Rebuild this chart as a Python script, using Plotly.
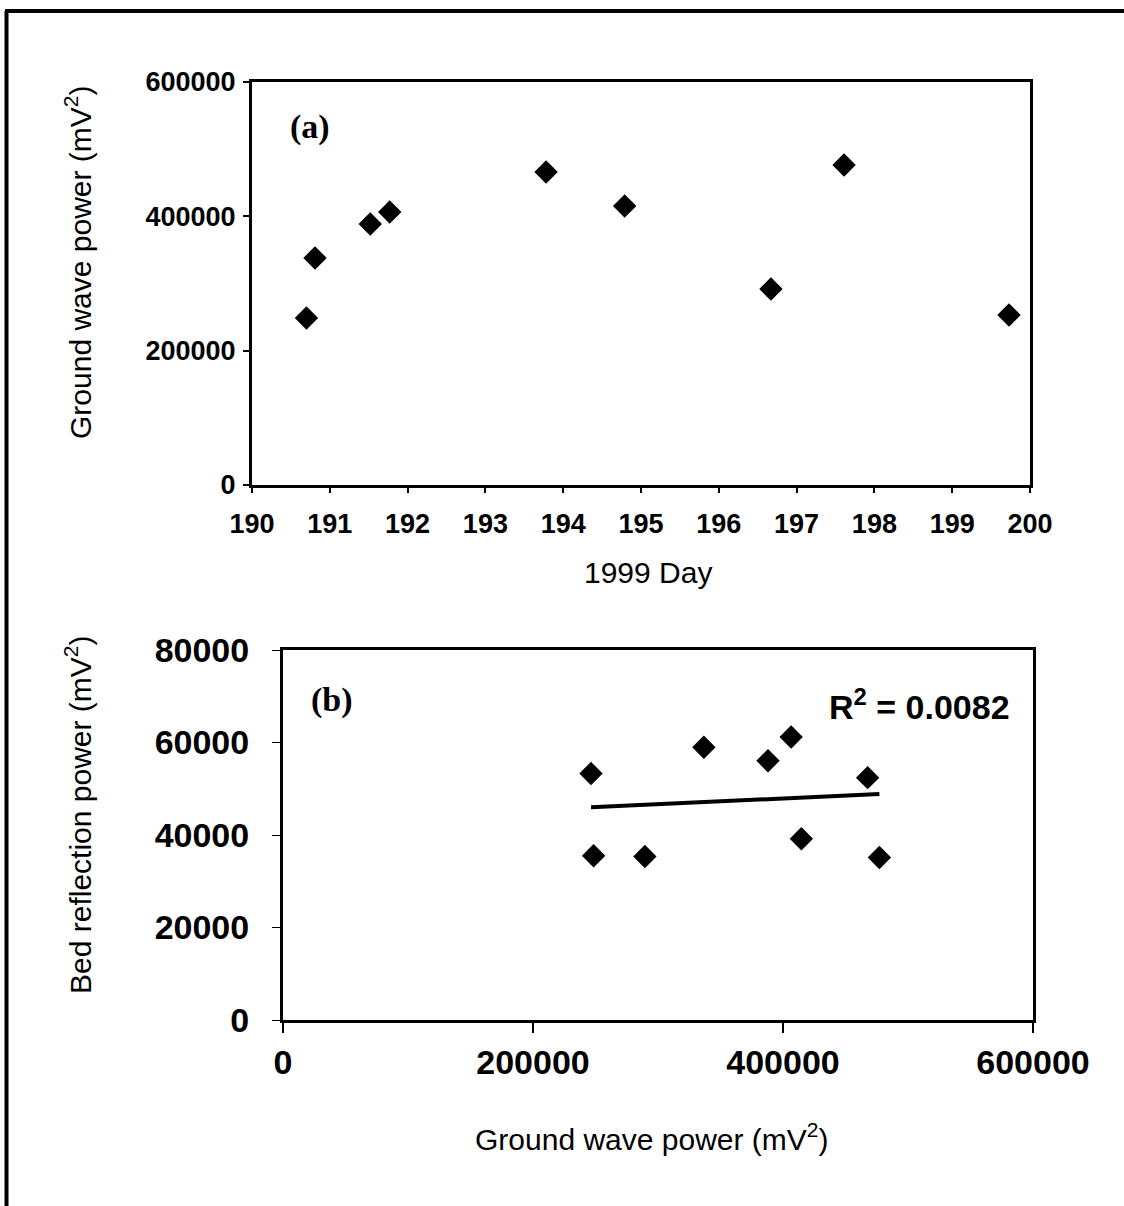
import numpy as np
import plotly.graph_objects as go

# ---- Data ----
day_1999 = [190.70, 190.81, 191.52, 191.77, 193.78, 194.79, 196.67, 197.61, 199.73]
ground_wave_a = [248600, 338000, 388600, 406500, 466000, 415400, 291800, 476400, 253100]

ground_wave_b = [246400, 248500, 289500, 336700, 388000, 406500, 414700, 467700, 477100]
bed_reflection_b = [53290, 35510, 35360, 58980, 56070, 61180, 39180, 52400, 35150]

r2_text = "R<sup>2</sup> = 0.0082"

W, H = 1124, 1206

def px(x):
    return x / W

def py(y):
    return 1 - y / H

SANS = "Liberation Sans, Arial, sans-serif"
SERIF = "Liberation Serif, Times New Roman, serif"

fig = go.Figure()

fig.add_trace(go.Scatter(
    x=day_1999, y=ground_wave_a, mode="markers",
    marker=dict(symbol="diamond", size=18, color="black"),
    xaxis="x", yaxis="y", showlegend=False))

fig.add_trace(go.Scatter(
    x=ground_wave_b, y=bed_reflection_b, mode="markers",
    marker=dict(symbol="diamond", size=18, color="black"),
    xaxis="x2", yaxis="y2", showlegend=False))

# linear trendline from data
coef = np.polyfit(ground_wave_b, bed_reflection_b, 1)
xt = np.array([min(ground_wave_b), max(ground_wave_b)])
fig.add_trace(go.Scatter(
    x=xt, y=np.polyval(coef, xt), mode="lines",
    line=dict(color="black", width=4),
    xaxis="x2", yaxis="y2", showlegend=False))

axis_common = dict(showgrid=False, zeroline=False, showline=True, mirror=True,
                   linecolor="black", linewidth=3, ticks="outside",
                   tickcolor="black", automargin=False)

tick_a = dict(family=SANS, size=27, color="black", weight="bold")
tick_b = dict(family=SANS, size=34, color="black", weight="bold")

fig.update_layout(
    width=W, height=H, autosize=False,
    margin=dict(l=0, r=0, t=0, b=0),
    paper_bgcolor="white", plot_bgcolor="white",
    xaxis=dict(domain=[px(252), px(1030)], range=[190, 200], dtick=1,
               tickfont=tick_a, ticklen=5, tickwidth=2, anchor="y",
               ticklabelstandoff=8, **axis_common),
    yaxis=dict(domain=[py(485), py(82)], range=[0, 600000], dtick=200000,
               tickformat="d", tickfont=tick_a, ticklen=6, tickwidth=2,
               anchor="x", ticklabelstandoff=2, **axis_common),
    xaxis2=dict(domain=[px(283), px(1033)], range=[0, 600000], dtick=200000,
                tickformat="d", tickfont=tick_b, ticklen=10, tickwidth=2,
                anchor="y2", ticklabelstandoff=0, **axis_common),
    yaxis2=dict(domain=[py(1020), py(650)], range=[0, 80000], dtick=20000,
                tickformat="d", tickfont=tick_b, ticklen=8, tickwidth=1,
                anchor="x2", ticklabelstandoff=16, **axis_common),
)

title_font = dict(family=SANS, size=30, color="black")
annotations = [
    dict(text="Ground wave power (mV<sup>2</sup>)", x=px(78), y=py(262),
         textangle=-90, font=title_font),
    dict(text="1999 Day", x=px(648), y=py(572), font=title_font),
    dict(text="Bed reflection power (mV<sup>2</sup>)", x=px(78), y=py(815),
         textangle=-90, font=title_font),
    dict(text="Ground wave power (mV<sup>2</sup>)", x=px(652), y=py(1137),
         font=title_font),
    dict(text="<b>(a)</b>", x=px(310), y=py(127),
         font=dict(family=SERIF, size=34, color="black")),
    dict(text="<b>(b)</b>", x=px(332), y=py(700),
         font=dict(family=SERIF, size=34, color="black")),
    dict(text="<b>" + r2_text + "</b>", x=px(1012), y=py(705), xanchor="right",
         font=dict(family=SANS, size=34, color="black")),
]
for a in annotations:
    a.setdefault("xanchor", "center")
    a.update(xref="paper", yref="paper", yanchor="middle", showarrow=False)
fig.update_layout(annotations=annotations)

# outer frame (left and top edges)
fig.add_shape(type="line", xref="paper", yref="paper",
              x0=px(6.5), x1=px(6.5), y0=0, y1=py(11),
              line=dict(color="black", width=4))
fig.add_shape(type="line", xref="paper", yref="paper",
              x0=px(5), x1=1, y0=py(11), y1=py(11),
              line=dict(color="black", width=4))

fig.write_html("out.html",
               config={"displayModeBar": False},
               post_script="document.body.style.margin='0';document.body.style.overflow='hidden';")
